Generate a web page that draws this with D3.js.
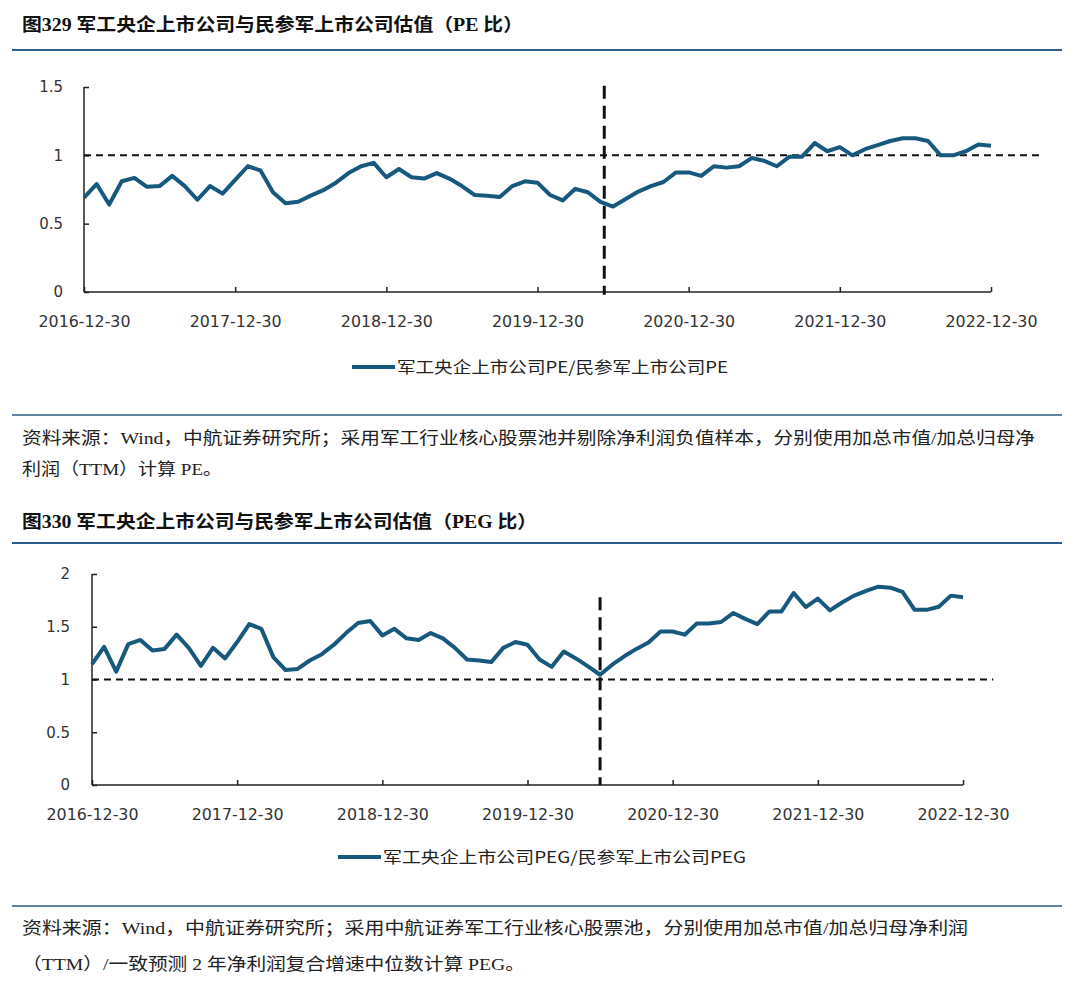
<!DOCTYPE html>
<html><head><meta charset="utf-8">
<script src="https://cdn.jsdelivr.net/npm/d3@7"></script>
<style>
body{margin:0;background:#fff;}
svg{display:block;}
</style></head>
<body><svg id="c" width="1080" height="984"></svg>
<script>
// ---------- DATA ----------
const months = ["2016-12","2017-01","2017-02","2017-03","2017-04","2017-05","2017-06","2017-07","2017-08","2017-09","2017-10","2017-11",
"2017-12","2018-01","2018-02","2018-03","2018-04","2018-05","2018-06","2018-07","2018-08","2018-09","2018-10","2018-11",
"2018-12","2019-01","2019-02","2019-03","2019-04","2019-05","2019-06","2019-07","2019-08","2019-09","2019-10","2019-11",
"2019-12","2020-01","2020-02","2020-03","2020-04","2020-05","2020-06","2020-07","2020-08","2020-09","2020-10","2020-11",
"2020-12","2021-01","2021-02","2021-03","2021-04","2021-05","2021-06","2021-07","2021-08","2021-09","2021-10","2021-11",
"2021-12","2022-01","2022-02","2022-03","2022-04","2022-05","2022-06","2022-07","2022-08","2022-09","2022-10","2022-11","2022-12"];

const peRatio = [0.69,0.79,0.64,0.81,0.835,0.77,0.775,0.85,0.775,0.675,0.775,0.72,
0.82,0.92,0.89,0.73,0.65,0.66,0.705,0.745,0.80,0.87,0.92,0.945,
0.84,0.90,0.84,0.83,0.87,0.83,0.775,0.71,0.705,0.695,0.775,0.81,
0.80,0.71,0.67,0.755,0.73,0.66,0.625,0.68,0.735,0.775,0.805,0.875,
0.875,0.85,0.92,0.91,0.92,0.98,0.96,0.92,0.99,0.99,1.09,1.03,
1.06,1.00,1.045,1.075,1.105,1.125,1.125,1.105,1.00,1.00,1.03,1.08,1.07];

const pegRatio = [1.146,1.31,1.075,1.335,1.375,1.275,1.29,1.425,1.30,1.13,1.30,1.20,
1.355,1.525,1.48,1.21,1.09,1.10,1.18,1.24,1.33,1.44,1.535,1.555,
1.418,1.48,1.39,1.375,1.44,1.39,1.30,1.19,1.18,1.165,1.30,1.355,
1.33,1.19,1.12,1.265,1.20,1.125,1.045,1.14,1.22,1.29,1.35,1.455,
1.455,1.425,1.53,1.53,1.545,1.63,1.575,1.525,1.645,1.645,1.82,1.687,
1.766,1.655,1.73,1.795,1.84,1.88,1.87,1.83,1.66,1.66,1.69,1.795,1.78];

const xTickLabels = ["2016-12-30","2017-12-30","2018-12-30","2019-12-30","2020-12-30","2021-12-30","2022-12-30"];
const xTickMonths = ["2016-12","2017-12","2018-12","2019-12","2020-12","2021-12","2022-12"];
const peYTicks = [0,0.5,1,1.5];
const pegYTicks = [0,0.5,1,1.5,2];
const refValue = 1;

const titles = ["图329 军工央企上市公司与民参军上市公司估值（PE 比）","图330 军工央企上市公司与民参军上市公司估值（PEG 比）"];
const legends = ["军工央企上市公司PE/民参军上市公司PE","军工央企上市公司PEG/民参军上市公司PEG"];
const notes1 = ["资料来源：Wind，中航证券研究所；采用军工行业核心股票池并剔除净利润负值样本，分别使用加总市值/加总归母净","利润（TTM）计算 PE。"];
const notes2 = ["资料来源：Wind，中航证券研究所；采用中航证券军工行业核心股票池，分别使用加总市值/加总归母净利润","（TTM）/一致预测 2 年净利润复合增速中位数计算 PEG。"];

// ---------- DRAW ----------
const svg = d3.select("#c");
svg.append("rect").attr("width",1080).attr("height",984).attr("fill","#fff");
const LINE = "#17587d", RULE = "#2b5b88";
const CJK = "'Noto Sans CJK SC','Noto Sans',sans-serif";
const SERIF = "'Liberation Serif','Noto Sans CJK SC',serif";
const NUM = "'DejaVu Sans',sans-serif";

function header(y, text, len){
  svg.append("text").attr("x",22).attr("y",y).attr("font-family",SERIF).attr("font-weight","bold")
    .attr("font-size",18).attr("fill","#111").attr("textLength",len).attr("lengthAdjust","spacingAndGlyphs").text(text);
}
function rule(y, w){
  svg.append("line").attr("x1",12).attr("x2",1062).attr("y1",y).attr("y2",y).attr("stroke",RULE).attr("stroke-width",w);
}
function note(y, text, len){
  svg.append("text").attr("x",22).attr("y",y).attr("font-family",SERIF).attr("font-size",17)
    .attr("fill","#222").attr("textLength",len).attr("lengthAdjust","spacingAndGlyphs").text(text);
}

function chart(o){
  const x = d3.scaleLinear().domain([0, months.length-1]).range([o.x0, o.x1]);
  const y = d3.scaleLinear().domain([0, o.yMax]).range([o.yBottom, o.yTop]);
  const g = svg.append("g");
  // y axis
  const ya = d3.axisLeft(y).tickValues(o.yTicks).tickSize(-5).tickPadding(0).tickFormat(d=>d3.format("")(d));
  const gy = g.append("g").attr("transform",`translate(${o.x0},0)`).call(ya);
  gy.select(".domain").remove();
  gy.selectAll(".tick line").attr("stroke","#222").attr("stroke-width",1.5);
  gy.selectAll(".tick text").attr("x",o.yLabelDx).attr("font-family",NUM).attr("font-size",15).attr("fill","#333").attr("text-anchor","end");
  g.append("line").attr("x1",o.x0).attr("x2",o.x0).attr("y1",y(o.yMax)).attr("y2",y(0)).attr("stroke","#222").attr("stroke-width",1.5);
  // x axis
  const tickIdx = xTickMonths.map(m=>months.indexOf(m));
  const xa = d3.axisBottom(x).tickValues(tickIdx).tickSize(-5).tickFormat((d,i)=>xTickLabels[i]);
  const gx = g.append("g").attr("transform",`translate(0,${y(0)})`).call(xa);
  gx.select(".domain").remove();
  gx.selectAll(".tick line").attr("stroke","#222").attr("stroke-width",1.5);
  gx.selectAll(".tick text").attr("y",o.xLabelDy).attr("font-family",NUM).attr("font-size",15).attr("fill","#333")
    .attr("textLength",92).attr("lengthAdjust","spacingAndGlyphs");
  g.append("line").attr("x1",o.x0).attr("x2",o.x1).attr("y1",y(0)).attr("y2",y(0)).attr("stroke","#222").attr("stroke-width",1.5);
  // reference line at 1
  g.append("line").attr("x1",x(0)).attr("x2",x(o.refEnd)).attr("y1",y(refValue)).attr("y2",y(refValue))
    .attr("stroke","#111").attr("stroke-width",2).attr("stroke-dasharray","7,5");
  // vertical marker
  g.append("line").attr("x1",x(o.marker)).attr("x2",x(o.marker)).attr("y1",y(o.markerTop)).attr("y2",y(o.markerBottom))
    .attr("stroke","#111").attr("stroke-width",3).attr("stroke-dasharray","13,7");
  // data line
  const line = d3.line().x((d,i)=>x(i)).y(d=>y(d));
  g.append("path").datum(o.data).attr("d",line).attr("fill","none").attr("stroke",LINE).attr("stroke-width",4).attr("stroke-linejoin","round");
  // legend
  g.append("line").attr("x1",o.legX).attr("x2",o.legX+43).attr("y1",o.legY).attr("y2",o.legY).attr("stroke",LINE).attr("stroke-width",4);
  g.append("text").attr("x",o.legX+45).attr("y",o.legY+6).attr("font-family",CJK).attr("font-size",16).attr("fill","#222")
    .attr("textLength",o.legLen).attr("lengthAdjust","spacingAndGlyphs").text(o.legend);
}

header(31, titles[0], 501);
rule(50, 2);
chart({data:peRatio, x0:84, x1:991, yTop:87, yBottom:292, yMax:1.5, yTicks:peYTicks, yLabelDx:-21, xLabelDy:24,
  refEnd:76.1, marker:41.3, markerTop:1.51, markerBottom:-0.02, legX:352, legY:367, legLen:331, legend:legends[0]});
rule(415, 1.5);
note(444, notes1[0], 1013);
note(475, notes1[1], 200);

header(528, titles[1], 515);
rule(543, 2);
chart({data:pegRatio, x0:92, x1:963, yTop:574, yBottom:785, yMax:2, yTicks:pegYTicks, yLabelDx:-22, xLabelDy:24,
  refEnd:74.5, marker:42, markerTop:1.78, markerBottom:0, legX:338, legY:857, legLen:363, legend:legends[1]});
rule(906, 1.5);
note(934, notes2[0], 946);
note(970, notes2[1], 503);
</script></body></html>
